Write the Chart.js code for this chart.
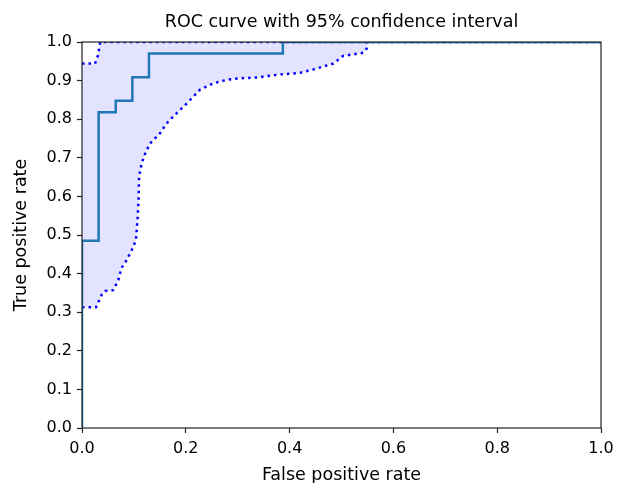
<!DOCTYPE html>
<html>
<head>
<meta charset="utf-8">
<script src="https://cdn.jsdelivr.net/npm/chart.js@4"></script>
<style>
    html, body { margin: 0; padding: 0; background: #fff; }
    #wrap { width: 623px; height: 483px; }
</style>
</head>
<body>
<div id="wrap"><canvas id="rocChart" width="623" height="483"></canvas></div>
<script>
// ROC egrisi (basamakli)
const rocFpr = [0, 0, 0.032, 0.032, 0.065, 0.065, 0.097, 0.097, 0.129, 0.129, 0.387, 0.387, 1.0];
const rocTpr = [0, 0.485, 0.485, 0.818, 0.818, 0.848, 0.848, 0.909, 0.909, 0.970, 0.970, 1.0, 1.0];

// %95 guven araligi - alt sinir
const lowerFpr = [0, 0.027, 0.038, 0.045, 0.060, 0.070, 0.076, 0.086, 0.096, 0.104, 0.107, 0.109, 0.110, 0.115,
    0.122, 0.131, 0.150, 0.163, 0.182, 0.205, 0.227, 0.253, 0.279, 0.304, 0.337, 0.381, 0.420, 0.446,
    0.484, 0.503, 0.542, 0.549, 0.550, 1.0];
const lowerTpr = [0.313, 0.313, 0.345, 0.355, 0.357, 0.383, 0.414, 0.435, 0.461, 0.487, 0.539, 0.590, 0.651, 0.686,
    0.712, 0.737, 0.763, 0.789, 0.815, 0.845, 0.876, 0.893, 0.902, 0.906, 0.908, 0.916, 0.920, 0.929,
    0.944, 0.964, 0.972, 0.984, 1.0, 1.0];

// %95 guven araligi - ust sinir
const upperFpr = [0, 0.025, 0.031, 0.035, 1.0];
const upperTpr = [0.944, 0.944, 0.966, 1.0, 1.0];

const xTicks = [0, 0.2, 0.4, 0.6, 0.8, 1.0];
const yTicks = [0, 0.1, 0.2, 0.3, 0.4, 0.5, 0.6, 0.7, 0.8, 0.9, 1.0];

const titleText = 'ROC curve with 95% confidence interval';
const xLabel = 'False positive rate';
const yLabel = 'True positive rate';

const FONT = "'DejaVu Sans', sans-serif";

function toPoints(xs, ys) {
    return xs.map((x, i) => ({ x: x, y: ys[i] }));
}

// Cerceve ve baslik cizimi
const framePlugin = {
    id: 'frame',
    afterDraw(chart) {
        const { ctx, chartArea } = chart;
        ctx.save();
        ctx.strokeStyle = '#222';
        ctx.lineWidth = 1.2;
        ctx.strokeRect(chartArea.left, chartArea.top, chartArea.right - chartArea.left, chartArea.bottom - chartArea.top);
        ctx.fillStyle = '#000';
        ctx.font = '17.5px ' + FONT;
        ctx.textAlign = 'center';
        ctx.textBaseline = 'middle';
        ctx.fillText(titleText, (chartArea.left + chartArea.right) / 2, 22.5);
        ctx.restore();
    }
};

const ctx = document.getElementById('rocChart');

new Chart(ctx, {
    type: 'line',
    data: {
        datasets: [
            {
                label: 'ROC',
                data: toPoints(rocFpr, rocTpr),
                borderColor: '#1f77b4',
                borderWidth: 2.5,
                pointRadius: 0,
                fill: false,
                tension: 0
            },
            {
                label: 'lower',
                data: toPoints(lowerFpr, lowerTpr),
                borderColor: '#0000ff',
                borderWidth: 2.5,
                borderDash: [2.5, 4],
                pointRadius: 0,
                fill: { target: 2 },
                backgroundColor: 'rgba(0, 0, 255, 0.11)',
                tension: 0
            },
            {
                label: 'upper',
                data: toPoints(upperFpr, upperTpr),
                borderColor: '#0000ff',
                borderWidth: 2.5,
                borderDash: [2.5, 4],
                pointRadius: 0,
                fill: false,
                tension: 0
            }
        ]
    },
    options: {
        responsive: false,
        animation: false,
        layout: { padding: { top: 42, right: 22, left: 0, bottom: 0 } },
        plugins: {
            legend: { display: false },
            tooltip: { enabled: false },
            filler: { drawTime: 'beforeDatasetsDraw' }
        },
        scales: {
            x: {
                type: 'linear',
                min: 0,
                max: 1,
                afterFit: s => { s.height = 55; },
                afterBuildTicks: s => { s.ticks = xTicks.map(v => ({ value: v })); },
                grid: { drawOnChartArea: false, tickLength: 5, color: '#222', tickWidth: 1.2 },
                border: { display: false },
                ticks: {
                    padding: 6,
                    color: '#000',
                    font: { family: FONT, size: 16 },
                    maxRotation: 0,
                    callback: v => v.toFixed(1)
                },
                title: {
                    display: true,
                    text: xLabel,
                    color: '#000',
                    font: { family: FONT, size: 17.5 },
                    padding: { top: 0, bottom: -3 }
                }
            },
            y: {
                type: 'linear',
                min: 0,
                max: 1,
                afterFit: s => { s.width = 82; },
                afterBuildTicks: s => { s.ticks = yTicks.map(v => ({ value: v })); },
                grid: { drawOnChartArea: false, tickLength: 5, color: '#222', tickWidth: 1.2 },
                border: { display: false },
                ticks: {
                    padding: 5,
                    color: '#000',
                    font: { family: FONT, size: 16 },
                    callback: v => v.toFixed(1)
                },
                title: {
                    display: true,
                    text: yLabel,
                    color: '#000',
                    font: { family: FONT, size: 17.5 },
                    padding: { top: 11, bottom: 0 }
                }
            }
        }
    },
    plugins: [framePlugin]
});
</script>
</body>
</html>
